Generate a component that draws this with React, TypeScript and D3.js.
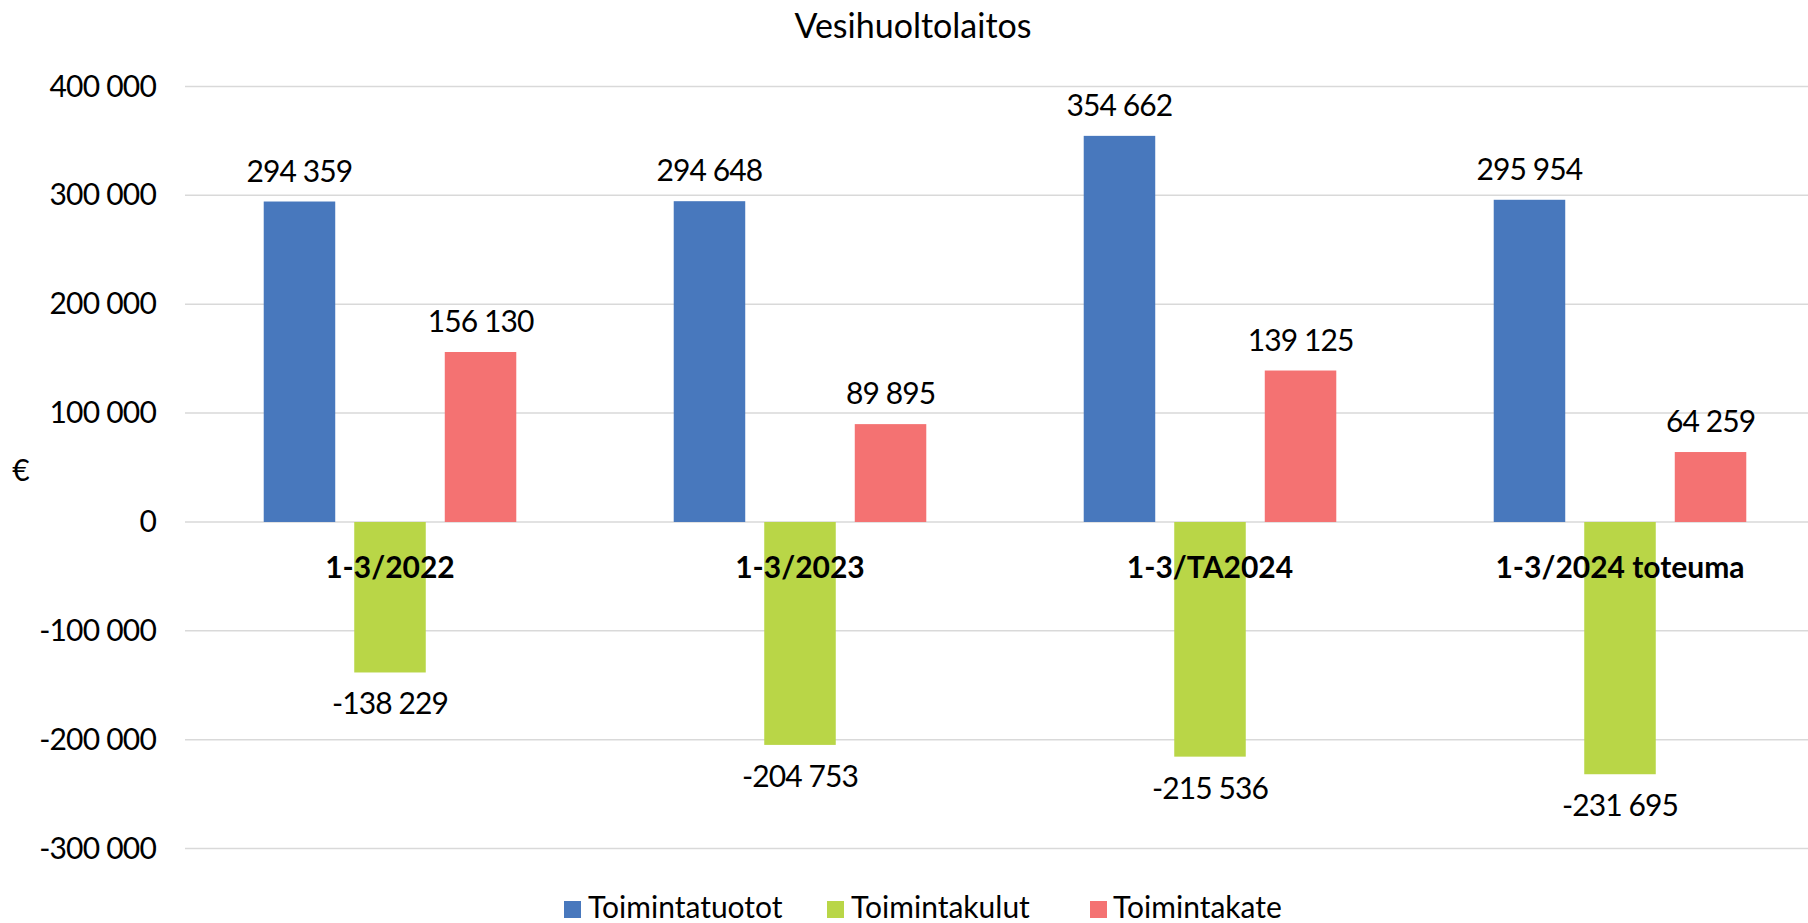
import React from "react";
import * as d3 from "d3";

const categories = ["1-3/2022", "1-3/2023", "1-3/TA2024", "1-3/2024 toteuma"];
const seriesNames = ["Toimintatuotot", "Toimintakulut", "Toimintakate"];
const toimintatuotot = [294359, 294648, 354662, 295954];
const toimintakulut = [-138229, -204753, -215536, -231695];
const toimintakate = [156130, 89895, 139125, 64259];
const yTicks = [-300000, -200000, -100000, 0, 100000, 200000, 300000, 400000];
const seriesColors = ["#4878BD", "#B9D647", "#F47272"];
const title = "Vesihuoltolaitos";
const yAxisTitle = "€";

const W = 1808;
const H = 923;
const FONT = "Lato, 'Open Sans', sans-serif";
const FS = 30;

const locale = d3.formatLocale({
  decimal: ",",
  thousands: " ",
  grouping: [3],
  currency: ["", "€"],
  minus: "-",
});
const fmt = locale.format(",d");

export default function App() {
  const seriesValues = [toimintatuotot, toimintakulut, toimintakate];
  const x0 = d3.scaleBand<string>().domain(categories).range([185, 1825]).padding(0);
  const bw = x0.bandwidth();
  const x1 = d3
    .scaleBand<string>()
    .domain(seriesNames)
    .range([bw * 0.192, bw * 0.808])
    .paddingInner(0.21)
    .paddingOuter(0);
  const y = d3.scaleLinear().domain([-300000, 400000]).range([848.6, 86.5]);

  const legendItems = [
    { x: 564, tx: 588 },
    { x: 827, tx: 851 },
    { x: 1090, tx: 1113 },
  ];

  return (
    <svg
      width={W}
      height={H}
      style={{ position: "absolute", left: 0, top: 0, display: "block", background: "#fff" }}
      fontFamily={FONT}
    >
      <rect x={0} y={0} width={W} height={H} fill="#fff" />
      <text x={913} y={38} textAnchor="middle" fontSize={34} fill="#000">
        {title}
      </text>
      {yTicks.map((t) => (
        <g key={t}>
          <line x1={185} x2={W} y1={y(t)} y2={y(t)} stroke="#D9D9D9" strokeWidth={1.5} />
          <text x={156} y={y(t) + 10} textAnchor="end" fontSize={FS} letterSpacing={-0.8} fill="#000">
            {fmt(t)}
          </text>
        </g>
      ))}
      <text x={21} y={481} textAnchor="middle" fontSize={FS} fill="#000">
        {yAxisTitle}
      </text>
      {seriesNames.map((s, si) =>
        categories.map((c, ci) => {
          const v = seriesValues[si][ci];
          const bx = (x0(c) as number) + (x1(s) as number);
          const top = Math.min(y(v), y(0));
          const h = Math.abs(y(v) - y(0));
          return (
            <rect key={s + c} x={bx} y={top} width={x1.bandwidth()} height={h} fill={seriesColors[si]} />
          );
        })
      )}
      {categories.map((c) => (
        <text
          key={c}
          x={(x0(c) as number) + bw / 2}
          y={578}
          textAnchor="middle"
          fontSize={FS}
          fontWeight="bold"
          fill="#000"
        >
          {c}
        </text>
      ))}
      {seriesNames.map((s, si) =>
        categories.map((c, ci) => {
          const v = seriesValues[si][ci];
          const cx = (x0(c) as number) + (x1(s) as number) + x1.bandwidth() / 2;
          const ly = v >= 0 ? y(v) - 20 : y(v) + 42;
          return (
            <text
              key={"l" + s + c}
              x={cx}
              y={ly}
              textAnchor="middle"
              fontSize={FS}
              letterSpacing={-0.9}
              fill="#000"
            >
              {fmt(v)}
            </text>
          );
        })
      )}
      {seriesNames.map((s, si) => (
        <g key={"lg" + s}>
          <rect x={legendItems[si].x} y={901} width={17} height={17} fill={seriesColors[si]} />
          <text x={legendItems[si].tx} y={918} fontSize={FS} fill="#000">
            {s}
          </text>
        </g>
      ))}
    </svg>
  );
}
